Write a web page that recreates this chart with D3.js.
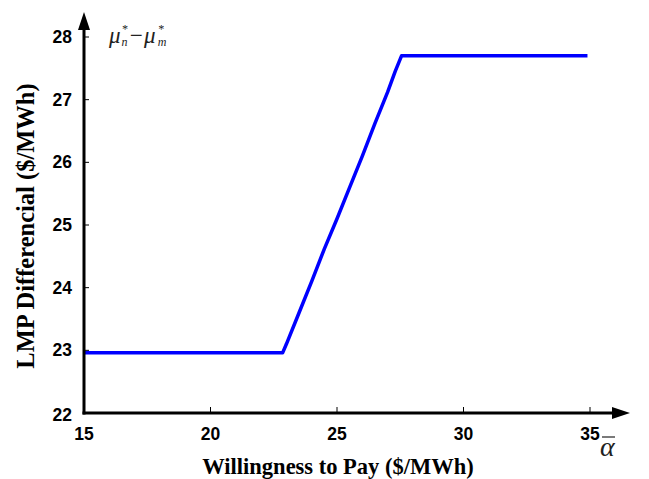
<!DOCTYPE html>
<html><head><meta charset="utf-8">
<script src="https://cdn.jsdelivr.net/npm/d3@7"></script>
<style>body{margin:0;background:#fff;}</style>
</head><body>
<svg id="c" width="649" height="479"></svg>
<script>
const xTicks = [15, 20, 25, 30, 35];
const yTicks = [22, 23, 24, 25, 26, 27, 28];
const alpha = [15, 22.85, 23.0, 23.5, 24.0, 24.5, 25.0, 25.5, 26.0, 26.5, 27.0, 27.3, 27.55, 34.9];
const lmp   = [22.96, 22.96, 23.1, 23.6, 24.1, 24.62, 25.1, 25.6, 26.1, 26.62, 27.12, 27.45, 27.70, 27.70];

const svg = d3.select("#c");
const x = d3.scaleLinear().domain([15, 35]).range([84, 590]);
const y = d3.scaleLinear().domain([22, 28]).range([413, 37]);

// line
svg.append("path")
  .datum(alpha.map((a, i) => [a, lmp[i]]))
  .attr("d", d3.line().x(d => x(d[0])).y(d => y(d[1])))
  .attr("fill", "none").attr("stroke", "#0000ff").attr("stroke-width", 3.5)
  .attr("stroke-linejoin", "round");

// axes lines
const ax = svg.append("g");
ax.append("line").attr("x1", x(15) - 1.5).attr("x2", 615).attr("y1", y(22)).attr("y2", y(22))
  .attr("stroke", "#000").attr("stroke-width", 3);
ax.append("line").attr("x1", x(15)).attr("x2", x(15)).attr("y1", y(22) + 1.5).attr("y2", 26)
  .attr("stroke", "#000").attr("stroke-width", 3);
ax.append("path").attr("d", `M630,${y(22)} L612,${y(22) - 6} L612,${y(22) + 6} Z`).attr("fill", "#000");
ax.append("path").attr("d", `M${x(15)},12 L${x(15) - 6},30 L${x(15) + 6},30 Z`).attr("fill", "#000");

// ticks
const xg = svg.append("g").attr("font-family", "Liberation Sans, Arial, sans-serif")
  .attr("font-weight", "bold").attr("font-size", 17.5);
xTicks.forEach(t => {
  if (t !== 15) xg.append("line").attr("x1", x(t)).attr("x2", x(t)).attr("y1", y(22)).attr("y2", y(22) - 6)
    .attr("stroke", "#000").attr("stroke-width", 1);
  xg.append("text").attr("x", x(t)).attr("y", 440).attr("text-anchor", "middle").text(t);
});
yTicks.forEach(t => {
  if (t !== 22) xg.append("line").attr("x1", x(15)).attr("x2", x(15) + 5).attr("y1", y(t)).attr("y2", y(t))
    .attr("stroke", "#000").attr("stroke-width", 1);
  xg.append("text").attr("x", 72).attr("y", y(t) + (t === 22 ? 8 : 6)).attr("text-anchor", "end").text(t);
});

// axis titles
svg.append("text").attr("x", 338).attr("y", 474).attr("text-anchor", "middle")
  .attr("font-family", "Liberation Serif, Times New Roman, serif").attr("font-weight", "bold")
  .attr("font-size", 22.5).text("Willingness to Pay ($/MWh)");
svg.append("text").attr("transform", "translate(34,226) rotate(-90)").attr("text-anchor", "middle")
  .attr("font-family", "Liberation Serif, Times New Roman, serif").attr("font-weight", "bold")
  .attr("font-size", 24.5).text("LMP Differencial ($/MWh)");

// annotations
const mu = svg.append("text").attr("x", 109).attr("y", 43)
  .attr("font-family", "Liberation Serif, Times New Roman, serif").attr("font-style", "italic")
  .attr("font-size", 23).attr("fill", "#222");
mu.append("tspan").text("μ");
mu.append("tspan").attr("font-size", 12).attr("dx", 1).attr("dy", -10).text("*");
mu.append("tspan").attr("font-size", 12).attr("dx", -6).attr("dy", 13).text("n");
mu.append("tspan").attr("font-size", 23).attr("dx", 1).attr("dy", -3).text("−");
mu.append("tspan").attr("font-size", 23).text("μ");
mu.append("tspan").attr("font-size", 12).attr("dx", 2).attr("dy", -10).text("*");
mu.append("tspan").attr("font-size", 12).attr("dx", -6).attr("dy", 13).text("m");

svg.append("text").attr("x", 600).attr("y", 456)
  .attr("font-family", "Liberation Serif, Times New Roman, serif").attr("font-style", "italic")
  .attr("font-size", 28).attr("fill", "#222").text("α");
svg.append("line").attr("x1", 602).attr("x2", 615).attr("y1", 437).attr("y2", 437)
  .attr("stroke", "#222").attr("stroke-width", 1.2);
</script>
</body></html>
